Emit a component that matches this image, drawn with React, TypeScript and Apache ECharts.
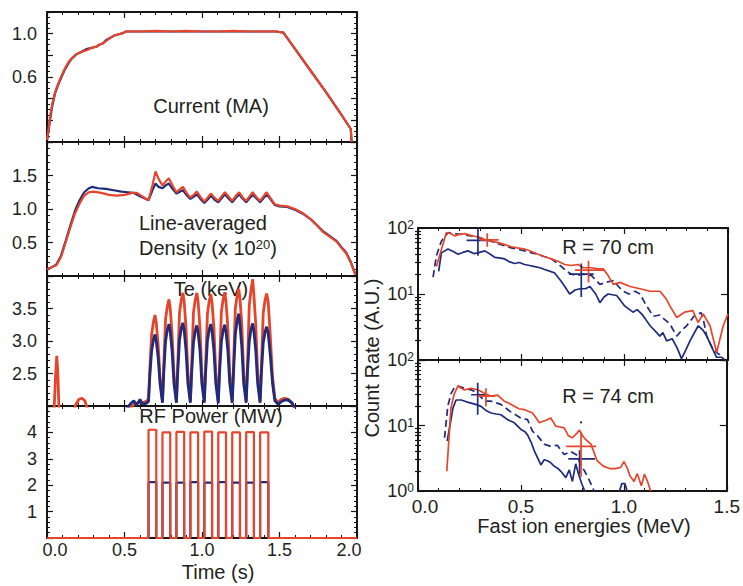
import React, { useEffect, useRef } from "react";
import * as echarts from "echarts";

const FONT = '"Liberation Sans", Arial, Helvetica, sans-serif';
const RED = "#e6452b";
const BLUE = "#1f2b7b";
const TXT = "#231f20";

// ---------- Left column: time traces ----------
const timeTicks = [0, 0.5, 1.0, 1.5, 2.0];

const currentRed: [number, number][] = [
  [0, 0.02], [0.01, 0.12], [0.02, 0.24], [0.035, 0.36], [0.052, 0.46], [0.07, 0.53], [0.084, 0.58],
  [0.1, 0.63], [0.116, 0.68], [0.14, 0.74], [0.159, 0.77], [0.19, 0.81], [0.22, 0.83], [0.26, 0.85],
  [0.29, 0.87], [0.32, 0.88], [0.34, 0.9], [0.36, 0.91], [0.38, 0.93], [0.406, 0.96], [0.43, 0.98],
  [0.45, 0.99], [0.48, 1.0], [0.51, 1.02], [0.6, 1.02], [0.7, 1.025], [0.8, 1.02], [0.9, 1.025],
  [1.0, 1.02], [1.1, 1.02], [1.2, 1.025], [1.3, 1.02], [1.4, 1.02], [1.48, 1.02], [1.525, 1.01],
  [1.6, 0.86], [1.7, 0.66], [1.8, 0.46], [1.9, 0.25], [1.96, 0.12], [1.965, 0.0],
];
const currentBlue: [number, number][] = [
  [0, 0.02], [0.01, 0.1], [0.02, 0.21], [0.035, 0.34], [0.052, 0.45], [0.07, 0.52], [0.084, 0.57],
  [0.1, 0.62], [0.116, 0.67], [0.14, 0.73], [0.159, 0.77], [0.19, 0.81], [0.22, 0.83], [0.26, 0.86],
  [0.29, 0.87], [0.32, 0.88], [0.34, 0.9], [0.36, 0.91], [0.38, 0.94], [0.406, 0.96], [0.43, 0.98],
  [0.45, 0.99], [0.48, 1.0], [0.51, 1.02], [0.6, 1.02], [0.7, 1.02], [0.8, 1.02], [0.9, 1.02],
  [1.0, 1.02], [1.1, 1.02], [1.2, 1.02], [1.3, 1.02], [1.4, 1.02], [1.48, 1.02], [1.525, 1.01],
  [1.6, 0.86], [1.7, 0.66], [1.8, 0.46], [1.9, 0.25], [1.96, 0.12], [1.965, 0.0],
];

const densityRed: [number, number][] = [
  [0, 0.1], [0.03, 0.13], [0.06, 0.16], [0.09, 0.28], [0.12, 0.5], [0.15, 0.72], [0.18, 0.93],
  [0.21, 1.08], [0.24, 1.2], [0.27, 1.25], [0.3, 1.26], [0.35, 1.24], [0.4, 1.21], [0.45, 1.2],
  [0.5, 1.21], [0.55, 1.24], [0.58, 1.24], [0.62, 1.18], [0.655, 1.13], [0.68, 1.35], [0.7, 1.56],
  [0.72, 1.45], [0.745, 1.35], [0.77, 1.42], [0.786, 1.46], [0.81, 1.35], [0.835, 1.25], [0.86, 1.3],
  [0.877, 1.33], [0.9, 1.24], [0.925, 1.17], [0.95, 1.22], [0.967, 1.26], [0.99, 1.18], [1.015, 1.11],
  [1.04, 1.18], [1.057, 1.23], [1.08, 1.17], [1.105, 1.12], [1.13, 1.2], [1.148, 1.25], [1.17, 1.19],
  [1.195, 1.12], [1.22, 1.2], [1.24, 1.25], [1.26, 1.18], [1.285, 1.12], [1.31, 1.2], [1.327, 1.25],
  [1.35, 1.18], [1.375, 1.12], [1.4, 1.2], [1.417, 1.25], [1.44, 1.17], [1.47, 1.07], [1.5, 1.05],
  [1.55, 1.04], [1.6, 1.0], [1.65, 0.94], [1.7, 0.85], [1.74, 0.76], [1.78, 0.66], [1.81, 0.61],
  [1.84, 0.56], [1.87, 0.51], [1.9, 0.42], [1.93, 0.34], [1.96, 0.2], [1.98, 0.08], [1.99, 0.02],
];
const densityBlue: [number, number][] = [
  [0, 0.1], [0.03, 0.13], [0.06, 0.17], [0.09, 0.3], [0.12, 0.52], [0.15, 0.75], [0.18, 0.97],
  [0.21, 1.13], [0.24, 1.25], [0.27, 1.31], [0.29, 1.33], [0.33, 1.31], [0.38, 1.3], [0.43, 1.28],
  [0.48, 1.26], [0.52, 1.25], [0.56, 1.24], [0.6, 1.19], [0.655, 1.13], [0.68, 1.28], [0.7, 1.38],
  [0.72, 1.33], [0.745, 1.31], [0.77, 1.36], [0.786, 1.38], [0.81, 1.3], [0.835, 1.23], [0.86, 1.26],
  [0.877, 1.28], [0.9, 1.21], [0.925, 1.15], [0.95, 1.19], [0.967, 1.22], [0.99, 1.15], [1.015, 1.09],
  [1.04, 1.15], [1.057, 1.2], [1.08, 1.14], [1.105, 1.1], [1.13, 1.17], [1.148, 1.22], [1.17, 1.16],
  [1.195, 1.1], [1.22, 1.17], [1.24, 1.22], [1.26, 1.16], [1.285, 1.1], [1.31, 1.17], [1.327, 1.21],
  [1.35, 1.16], [1.375, 1.1], [1.4, 1.17], [1.417, 1.22], [1.44, 1.15], [1.47, 1.06], [1.5, 1.04],
  [1.55, 1.03], [1.6, 0.99], [1.65, 0.93], [1.7, 0.85], [1.74, 0.76], [1.78, 0.67], [1.81, 0.62],
  [1.84, 0.57], [1.87, 0.52], [1.9, 0.43], [1.93, 0.35], [1.96, 0.21], [1.98, 0.08], [1.99, 0.02],
];

const teRed: [number, number][] = [
  [0, 1.9], [0.045, 1.9], [0.055, 2.45], [0.063, 2.77], [0.07, 2.5], [0.078, 1.9],
  [0.17, 1.9], [0.185, 2.02], [0.205, 2.1], [0.225, 2.12], [0.245, 2.08], [0.26, 1.95], [0.28, 1.9],
  [0.5, 1.9], [0.54, 1.98], [0.57, 2.04], [0.6, 2.05], [0.63, 2.06], [0.655, 2.1],
  [0.663, 2.55], [0.675, 3.1], [0.687, 3.3], [0.697, 3.4], [0.705, 3.28], [0.717, 2.95], [0.729, 2.45], [0.745, 2.08],
  [0.753, 2.6], [0.765, 3.34], [0.777, 3.54], [0.787, 3.64], [0.795, 3.5], [0.807, 3.1], [0.819, 2.5], [0.835, 2.07],
  [0.843, 2.6], [0.855, 3.44], [0.867, 3.64], [0.877, 3.74], [0.885, 3.6], [0.897, 3.2], [0.909, 2.5], [0.925, 2.08],
  [0.933, 2.6], [0.945, 3.44], [0.957, 3.64], [0.967, 3.74], [0.975, 3.6], [0.987, 3.2], [0.999, 2.5], [1.015, 2.08],
  [1.023, 2.6], [1.035, 3.42], [1.047, 3.62], [1.057, 3.72], [1.065, 3.58], [1.077, 3.2], [1.089, 2.5], [1.105, 2.07],
  [1.113, 2.6], [1.125, 3.45], [1.137, 3.65], [1.147, 3.75], [1.155, 3.6], [1.167, 3.2], [1.179, 2.5], [1.195, 2.08],
  [1.203, 2.6], [1.215, 3.5], [1.227, 3.7], [1.237, 3.8], [1.245, 3.65], [1.257, 3.25], [1.269, 2.5], [1.285, 2.08],
  [1.293, 2.6], [1.305, 3.55], [1.317, 3.8], [1.327, 3.95], [1.335, 3.7], [1.347, 3.25], [1.359, 2.5], [1.375, 2.08],
  [1.383, 2.6], [1.395, 3.43], [1.407, 3.63], [1.417, 3.73], [1.427, 3.6], [1.44, 3.1], [1.455, 2.45], [1.47, 2.12],
  [1.49, 2.05], [1.51, 2.1], [1.53, 2.12], [1.56, 2.1], [1.58, 2.04], [1.6, 1.95], [1.63, 1.9], [2, 1.9],
];
const teBlue: [number, number][] = [
  [0.5, 1.9], [0.52, 1.98], [0.545, 2.05], [0.56, 2.08], [0.575, 2.02], [0.59, 2.06], [0.6, 2.1],
  [0.615, 2.03], [0.64, 2.04], [0.655, 2.07],
  [0.663, 2.45], [0.675, 2.85], [0.687, 3.02], [0.697, 3.1], [0.705, 3.0], [0.717, 2.75], [0.729, 2.35], [0.745, 2.05],
  [0.753, 2.5], [0.765, 3.0], [0.777, 3.18], [0.787, 3.26], [0.795, 3.15], [0.807, 2.85], [0.819, 2.35], [0.835, 2.05],
  [0.843, 2.5], [0.855, 3.02], [0.867, 3.2], [0.877, 3.28], [0.885, 3.17], [0.897, 2.85], [0.909, 2.35], [0.925, 2.05],
  [0.933, 2.5], [0.945, 2.98], [0.957, 3.16], [0.967, 3.24], [0.975, 3.13], [0.987, 2.85], [0.999, 2.35], [1.015, 2.05],
  [1.023, 2.5], [1.035, 3.0], [1.047, 3.18], [1.057, 3.26], [1.065, 3.15], [1.077, 2.85], [1.089, 2.35], [1.105, 2.04],
  [1.113, 2.5], [1.125, 2.99], [1.137, 3.17], [1.147, 3.25], [1.155, 3.14], [1.167, 2.85], [1.179, 2.35], [1.195, 2.05],
  [1.203, 2.5], [1.215, 3.1], [1.227, 3.32], [1.237, 3.42], [1.245, 3.25], [1.257, 2.9], [1.269, 2.35], [1.285, 2.05],
  [1.293, 2.5], [1.305, 3.0], [1.317, 3.19], [1.327, 3.27], [1.335, 3.15], [1.347, 2.85], [1.359, 2.35], [1.375, 2.05],
  [1.383, 2.5], [1.395, 2.97], [1.407, 3.14], [1.417, 3.22], [1.427, 3.12], [1.44, 2.8], [1.455, 2.35], [1.47, 2.08],
  [1.49, 2.03], [1.52, 2.08], [1.55, 2.1], [1.58, 2.05], [1.6, 1.96], [1.63, 1.9], [2, 1.9],
];

// RF pulses: switch-on / switch-off times (s) and flat-top levels (MW)
const rfOn = [0.655, 0.745, 0.835, 0.925, 1.015, 1.105, 1.195, 1.285, 1.375];
const rfOff = [0.705, 0.795, 0.885, 0.975, 1.065, 1.155, 1.245, 1.335, 1.428];
const rfRedTop = [4.1, 4.0, 4.02, 4.0, 4.03, 4.0, 4.0, 4.01, 4.0];
const rfBlueTop = [2.12, 2.1, 2.1, 2.12, 2.1, 2.12, 2.1, 2.1, 2.12];

// ---------- Right column: fast ion spectra ----------
const energyTicks = [0, 0.5, 1.0, 1.5];

const r70Red: [number, number][] = [
  [0.089, 26], [0.137, 85], [0.16, 82], [0.177, 76], [0.2, 80], [0.226, 82], [0.25, 78], [0.274, 75],
  [0.3, 72], [0.323, 67], [0.35, 64], [0.387, 60], [0.42, 56], [0.452, 52], [0.48, 50], [0.516, 48],
  [0.55, 44], [0.58, 40], [0.61, 37], [0.645, 34], [0.68, 31], [0.71, 28], [0.74, 27], [0.774, 28],
  [0.8, 25], [0.84, 25], [0.87, 24], [0.897, 24], [0.92, 19], [0.945, 14], [0.977, 15], [1.026, 13],
  [1.074, 12], [1.123, 11], [1.171, 11], [1.2, 8.5], [1.219, 6.6], [1.252, 4.4], [1.29, 5.3],
  [1.33, 5.6], [1.355, 3.7], [1.38, 5], [1.413, 3.3], [1.445, 1.3], [1.477, 3.3], [1.5, 5],
];
const r70Blue: [number, number][] = [
  [0.1, 22], [0.113, 42], [0.145, 48], [0.17, 44], [0.194, 40], [0.22, 43], [0.242, 45], [0.27, 41],
  [0.29, 42], [0.323, 45], [0.35, 40], [0.371, 36], [0.4, 35], [0.419, 34], [0.44, 31], [0.468, 29],
  [0.49, 30], [0.516, 28], [0.54, 27], [0.565, 26], [0.59, 25], [0.613, 23.5], [0.64, 22], [0.66, 21],
  [0.69, 16], [0.71, 13], [0.734, 10], [0.76, 11.5], [0.784, 12], [0.81, 12], [0.832, 13], [0.86, 10],
  [0.88, 7.4], [0.9, 9], [0.92, 10], [0.961, 9.5], [0.98, 8], [1.0, 6.6], [1.04, 5.3], [1.06, 5.8],
  [1.082, 5], [1.1, 4.2], [1.123, 3.3], [1.155, 2.6], [1.17, 2.3], [1.185, 2.6], [1.203, 1.95],
  [1.23, 2.1], [1.255, 1.5], [1.275, 1.05], [1.295, 1.4], [1.316, 1.95], [1.356, 3.3], [1.38, 2.8],
  [1.397, 2.3], [1.42, 1.6], [1.445, 1.1], [1.47, 1.1], [1.485, 1.0],
];
const r70BlueDashed: [number, number][] = [
  [0.073, 18], [0.089, 38], [0.113, 63], [0.145, 85], [0.177, 82], [0.21, 80], [0.258, 76], [0.29, 72],
  [0.323, 67], [0.36, 62], [0.387, 58], [0.42, 54], [0.452, 50], [0.48, 48], [0.516, 45], [0.55, 42],
  [0.58, 40], [0.61, 37], [0.645, 34], [0.67, 30], [0.694, 26], [0.72, 22], [0.742, 20], [0.768, 19],
  [0.8, 20], [0.84, 19], [0.88, 14], [0.91, 15], [0.945, 16], [0.97, 13], [0.993, 11], [1.02, 10],
  [1.05, 11], [1.074, 10], [1.106, 6.6], [1.139, 4.6], [1.17, 4.8], [1.19, 4.2], [1.219, 3.5],
  [1.252, 2.3], [1.275, 2.8], [1.3, 3.3], [1.34, 4.8], [1.37, 5.2], [1.38, 4.2], [1.397, 2.3],
  [1.43, 1.4], [1.46, 1.2],
];

const r74Red: [number, number][] = [
  [0.14, 2.0], [0.16, 18.6], [0.177, 31], [0.194, 40], [0.21, 37], [0.226, 35], [0.258, 37], [0.29, 35],
  [0.323, 31], [0.355, 28], [0.387, 29], [0.419, 23.5], [0.44, 22], [0.468, 19.6], [0.49, 18],
  [0.516, 17.5], [0.556, 15.5], [0.574, 13], [0.589, 11], [0.605, 11.5], [0.622, 12], [0.645, 13],
  [0.669, 9.8], [0.69, 9.5], [0.71, 9.2], [0.73, 7], [0.75, 6.5], [0.77, 7.5], [0.784, 8.5], [0.8, 7],
  [0.81, 6.3], [0.84, 5.2], [0.87, 2.9], [0.9, 2.4], [0.93, 2.2], [0.96, 2.2], [0.985, 2.3], [1.0, 2.8],
  [1.015, 2.3], [1.03, 1.7], [1.05, 1.4], [1.065, 1.85], [1.085, 1.2], [1.1, 1.8], [1.115, 1.4], [1.13, 1.0],
];
const r74Blue: [number, number][] = [
  [0.142, 5.8], [0.17, 18.6], [0.185, 24.5], [0.21, 24.5], [0.235, 23], [0.258, 22], [0.28, 21],
  [0.306, 19.6], [0.33, 17], [0.355, 15.5], [0.38, 15], [0.403, 14.6], [0.435, 12.3], [0.468, 11],
  [0.5, 8.7], [0.52, 8], [0.532, 7.2], [0.55, 5.5], [0.565, 4.1], [0.597, 2.5], [0.613, 3.0],
  [0.629, 2.9], [0.645, 2.7], [0.661, 2.4], [0.68, 2.2], [0.694, 2.0], [0.718, 1.6], [0.735, 2.1],
  [0.75, 1.4], [0.766, 2.6], [0.78, 1.8], [0.795, 1.3], [0.81, 1.0], [0.83, 0.8], [0.97, 0.8],
  [0.99, 1.3], [1.005, 1.3], [1.025, 0.8],
];
const r74BlueDashed: [number, number][] = [
  [0.129, 6.5], [0.145, 20], [0.161, 31], [0.177, 38], [0.194, 40], [0.226, 37], [0.258, 35],
  [0.29, 31], [0.323, 23.5], [0.355, 23.5], [0.403, 21], [0.452, 16], [0.5, 13], [0.532, 12.3],
  [0.556, 8.2], [0.58, 7], [0.613, 5.2], [0.645, 4.8], [0.677, 5], [0.71, 3.6], [0.742, 4],
  [0.774, 3.5], [0.79, 2.5], [0.81, 2.0], [0.83, 1.5], [0.85, 1.1], [0.86, 0.9],
];

// error-bar crosses: [centre energy, centre value, energy low, energy high, value low, value high]
const r70Crosses = [
  { color: BLUE, c: [0.29, 65, 0.235, 0.335, 38, 110] },
  { color: RED, c: [0.335, 66, 0.3, 0.39, 52, 83] },
  { color: BLUE, c: [0.79, 20, 0.73, 0.85, 9, 29] },
  { color: RED, c: [0.825, 23, 0.76, 0.9, 15, 32] },
];
const r74Crosses = [
  { color: BLUE, c: [0.29, 29.5, 0.258, 0.33, 14.6, 45] },
  { color: RED, c: [0.33, 28, 0.29, 0.375, 19.6, 37] },
  { color: BLUE, c: [0.785, 3.1, 0.73, 0.86, 1.8, 4.2] },
  { color: RED, c: [0.792, 4.8, 0.72, 0.865, 1.64, 8.0] },
];

// ---------- helpers ----------
const near = (v: number, list: number[]) => list.some((t) => Math.abs(v - t) < 1e-6);
const frameLine = { show: true, onZero: false, lineStyle: { color: "#151515", width: 2 } };
const tick = (len: number) => ({ show: true, inside: true, length: len, lineStyle: { color: "#151515", width: 1.2 } });
const minor = (n: number) => ({ show: true, splitNumber: n, length: 3, lineStyle: { color: "#151515", width: 1 } });
const lblBase = { color: TXT, fontFamily: FONT, fontSize: 18 };

function buildRF(level: number[]): [number, number][] {
  const pts: [number, number][] = [[0, 0]];
  rfOn.forEach((on, i) => {
    pts.push([on, 0], [on, level[i]], [rfOff[i], level[i]], [rfOff[i], 0]);
  });
  pts.push([2, 0]);
  return pts;
}

function crossData(c: number[]): any[] {
  const [x, y, x0, x1, y0, y1] = c;
  return [[x0, y], [x1, y], [x, "-"], [x, y0], [x, y1]];
}

function buildOption() {
  const grid: any[] = [
    { left: 47, top: 12, width: 310, height: 130 },
    { left: 47, top: 142, width: 310, height: 134 },
    { left: 47, top: 276, width: 310, height: 130 },
    { left: 47, top: 406, width: 310, height: 132 },
    { left: 418, top: 228, width: 310, height: 132 },
    { left: 418, top: 360, width: 310, height: 131 },
  ];
  const xAxis: any[] = [];
  const yAxis: any[] = [];
  const series: any[] = [];

  const leftY = [
    { min: 0, max: 1.2, interval: 0.2, minorN: 4, labels: [0.6, 1.0], fmt: (v: number) => v.toFixed(1) },
    { min: 0, max: 2, interval: 0.5, minorN: 5, labels: [0.5, 1.0, 1.5], fmt: (v: number) => v.toFixed(1) },
    { min: 2, max: 4, interval: 0.5, minorN: 5, labels: [2.5, 3.0, 3.5], fmt: (v: number) => v.toFixed(1) },
    { min: 0, max: 5, interval: 1, minorN: 5, labels: [1, 2, 3, 4], fmt: (v: number) => String(Math.round(v)) },
  ];

  for (let i = 0; i < 4; i++) {
    const bottomLabels = i === 3;
    xAxis.push({
      type: "value", gridIndex: i, position: "bottom", min: 0, max: 2, interval: 0.5,
      axisLine: frameLine, axisTick: tick(6), minorTick: minor(5), splitLine: { show: false },
      axisLabel: bottomLabels
        ? {
            ...lblBase, margin: 3, customValues: timeTicks,
            formatter: (v: number) => (near(v, [0]) ? "{l|0.0}" : near(v, [2]) ? "{r|2.0}" : v.toFixed(1)),
            rich: {
              l: { ...lblBase, padding: [0, 0, 0, 16] },
              r: { ...lblBase, padding: [0, 16, 0, 0] },
            },
          }
        : { show: false },
    });
    xAxis.push({
      type: "value", gridIndex: i, position: "top", min: 0, max: 2, interval: 0.5,
      axisLine: frameLine, axisTick: tick(6), minorTick: minor(5), splitLine: { show: false },
      axisLabel: { show: false },
    });
    const ly = leftY[i];
    yAxis.push({
      type: "value", gridIndex: i, position: "left", min: ly.min, max: ly.max, interval: ly.interval,
      axisLine: frameLine, axisTick: tick(6), minorTick: minor(ly.minorN), splitLine: { show: false },
      axisLabel: {
        ...lblBase, margin: 10,
        formatter: (v: number) => (near(v, ly.labels) ? ly.fmt(v) : ""),
      },
    });
    yAxis.push({
      type: "value", gridIndex: i, position: "right", min: ly.min, max: ly.max, interval: ly.interval,
      axisLine: frameLine, axisTick: tick(6), minorTick: minor(ly.minorN), splitLine: { show: false },
      axisLabel: { show: false },
    });
  }

  const logMinor = [2, 3, 4, 5, 6, 7, 8, 9, 20, 30, 40, 50, 60, 70, 80, 90];
  for (let j = 0; j < 2; j++) {
    const g = 4 + j;
    xAxis.push({
      type: "value", gridIndex: g, position: "bottom", min: 0, max: 1.5, interval: 0.5,
      axisLine: frameLine, axisTick: tick(6), minorTick: minor(5), splitLine: { show: false },
      axisLabel: j === 1
        ? {
            ...lblBase, fontSize: 19, margin: 6, customValues: energyTicks,
            formatter: (v: number) => (near(v, [0]) ? "{l|0.0}" : v.toFixed(1)),
            rich: { l: { ...lblBase, fontSize: 19, padding: [0, 0, 0, 14] } },
          }
        : { show: false },
    });
    xAxis.push({
      type: "value", gridIndex: g, position: "top", min: 0, max: 1.5, interval: 0.5,
      axisLine: frameLine, axisTick: tick(6), minorTick: minor(5), splitLine: { show: false },
      axisLabel: { show: false },
    });
    const showExp = j === 0 ? [1, 2] : [0, 1, 2];
    yAxis.push({
      type: "log", logBase: 10, gridIndex: g, position: "left", min: 1, max: 100,
      axisLine: frameLine, axisTick: tick(7), splitLine: { show: false },
      axisLabel: {
        ...lblBase, margin: 4,
        formatter: (v: number) => {
          const e = Math.round(Math.log10(v));
          return showExp.includes(e) ? `{b|10}{s|${e}}` : "";
        },
        rich: {
          b: { ...lblBase, fontSize: 18 },
          s: { ...lblBase, fontSize: 12, verticalAlign: "top" },
        },
      },
    });
    yAxis.push({
      type: "log", logBase: 10, gridIndex: g, position: "left", min: 1, max: 100,
      axisLine: { show: false }, splitLine: { show: false }, axisLabel: { show: false },
      axisTick: { ...tick(3), customValues: logMinor },
    });
    yAxis.push({
      type: "log", logBase: 10, gridIndex: g, position: "right", min: 1, max: 100,
      axisLine: frameLine, axisTick: tick(7), splitLine: { show: false }, axisLabel: { show: false },
    });
    yAxis.push({
      type: "log", logBase: 10, gridIndex: g, position: "right", min: 1, max: 100,
      axisLine: { show: false }, splitLine: { show: false }, axisLabel: { show: false },
      axisTick: { ...tick(3), customValues: logMinor },
    });
  }

  const line = (data: any[], color: string, xi: number, yi: number, width = 2, dashed = false, z = 3) => ({
    type: "line", data, xAxisIndex: xi, yAxisIndex: yi, showSymbol: false, symbol: "none",
    clip: true, z, connectNulls: false,
    lineStyle: { color, width, type: dashed ? [7, 4] : "solid" },
    emphasis: { disabled: true },
  });

  // left panels: x index 2i, y index 2i
  series.push(line(currentBlue, BLUE, 0, 0, 2.2));
  series.push(line(currentRed, RED, 0, 0, 2.2));
  series.push(line(densityBlue, BLUE, 2, 2, 2.2));
  series.push(line(densityRed, RED, 2, 2, 2.2));
  series.push(line(teRed, RED, 4, 4, 2.8));
  series.push(line(teBlue, BLUE, 4, 4, 2.8));
  series.push(line(buildRF(rfBlueTop), BLUE, 6, 6, 2.2));
  series.push(line(buildRF(rfRedTop), RED, 6, 6, 2.2));

  // right panels
  series.push(line(r70Blue, BLUE, 8, 8, 1.7));
  series.push(line(r70BlueDashed, BLUE, 8, 8, 1.7, true));
  series.push(line(r70Red, RED, 8, 8, 1.7));
  r70Crosses.forEach((cr) => series.push(line(crossData(cr.c), cr.color, 8, 8, 1.7, false, 4)));

  series.push(line(r74Blue, BLUE, 10, 12, 1.7));
  series.push(line(r74BlueDashed, BLUE, 10, 12, 1.7, true));
  series.push(line(r74Red, RED, 10, 12, 1.7));
  r74Crosses.forEach((cr) => series.push(line(crossData(cr.c), cr.color, 10, 12, 1.7, false, 4)));
  series.push(line([[0.787, 11.2], [0.797, 11.2]], "#222", 10, 12, 1.7, false, 4));

  const txt = (text: string, x: number, y: number, extra: any = {}) => ({
    type: "text", x, y, z: 1,
    style: { text, font: `20px ${FONT}`, fill: TXT, align: "center", verticalAlign: "middle", ...extra },
  });

  const graphic: any[] = [
    txt("Current (MA)", 211, 106),
    txt("Line-averaged", 139, 223, { align: "left" }),
    {
      type: "text", x: 139, y: 248, z: 1,
      style: {
        text: "{a|Density (x 10}{s|20}{a|)}", align: "left", verticalAlign: "middle", fill: TXT,
        rich: {
          a: { fontFamily: FONT, fontSize: 20, fill: TXT },
          s: { fontFamily: FONT, fontSize: 13, fill: TXT, verticalAlign: "top" },
        },
      },
    },
    txt("Te (keV)", 211, 289),
    txt("RF Power (MW)", 211, 416),
    txt("Time (s)", 218, 572),
    txt("R = 70 cm", 608, 247),
    txt("R = 74 cm", 608, 396),
    txt("Fast ion energies (MeV)", 584, 526),
    { ...txt("Count Rate (A.U.)", 372, 358), rotation: Math.PI / 2 },
  ];

  return {
    animation: false,
    backgroundColor: "#ffffff",
    grid, xAxis, yAxis, series, graphic,
  };
}

export default function App() {
  const ref = useRef<HTMLDivElement>(null);
  useEffect(() => {
    if (!ref.current) return;
    const chart = echarts.init(ref.current, undefined, { renderer: "svg" });
    chart.setOption(buildOption() as any);
    return () => chart.dispose();
  }, []);
  return (
    <div
      ref={ref}
      style={{ position: "fixed", left: 0, top: 0, width: 743, height: 586, background: "#fff" }}
    />
  );
}
